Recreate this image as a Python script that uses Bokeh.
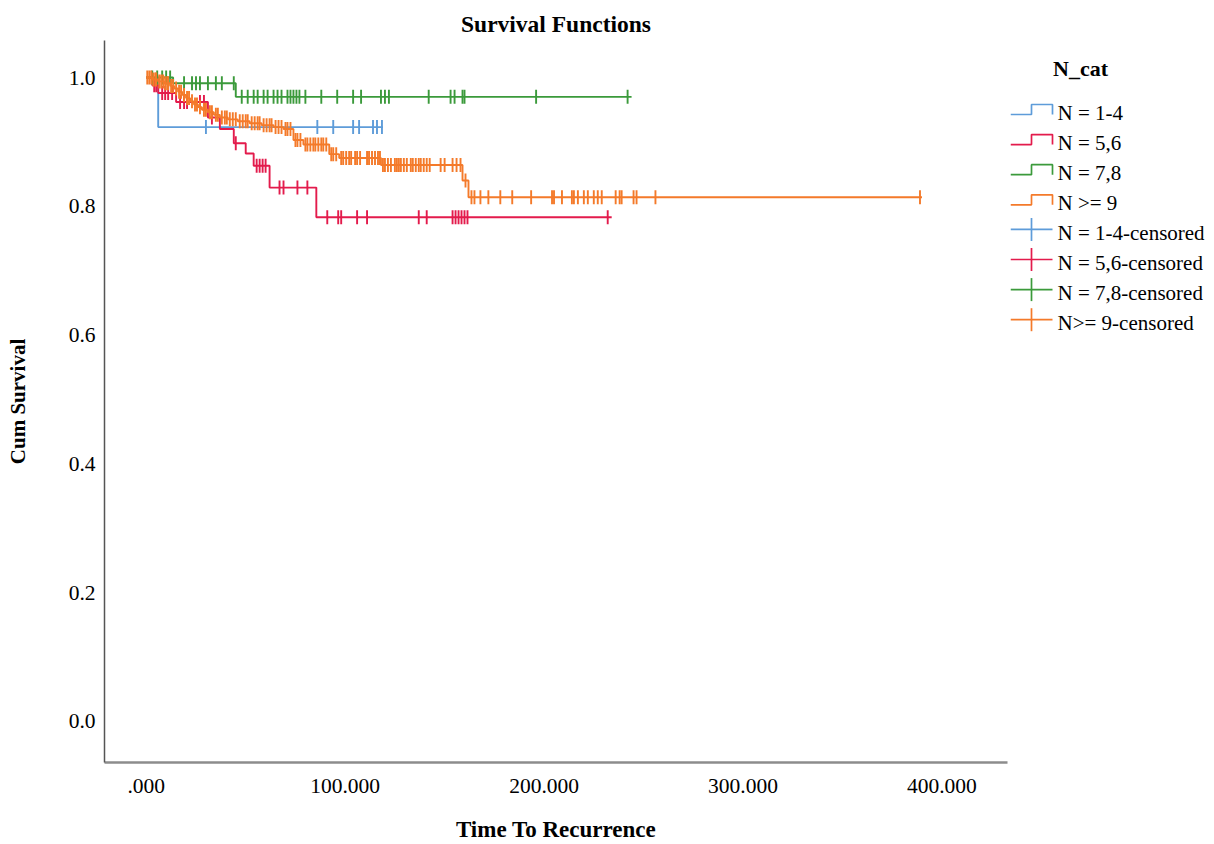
import numpy as np
from bokeh.plotting import figure
from bokeh.layouts import row
from bokeh.models import Range1d, FixedTicker
from bokeh.core.properties import value
from bokeh.embed import file_html
from bokeh.resources import INLINE

FONT = "Liberation Serif"

# ---- Kaplan-Meier estimates: step times, survival after each step, last follow-up, censored times
blue_time = [0.0, 6.0]
blue_surv = [1.0, 0.923]
blue_end = 119.0
blue_cens = [30, 86, 94, 104, 107, 114, 116, 118.5]

red_time = [0.0, 3.0, 6.0, 15.0, 31.0, 37.0, 44.0, 50.0, 54.0, 62.0, 85.5]
red_surv = [1.0, 0.988, 0.976, 0.962, 0.938, 0.92, 0.898, 0.882, 0.863, 0.829, 0.783]
red_end = 234.0
red_cens = [4, 5, 8, 9.5, 11, 13, 17, 19, 20.5, 27, 29, 33, 45, 55.5, 57, 58.5, 60,
            67, 69, 76, 81, 91, 96.5, 98, 106, 111, 137, 141, 154, 155.5, 157, 158.5,
            160, 161.5, 232]

green_time = [0.0, 13.5, 45.0]
green_surv = [1.0, 0.991, 0.97]
green_end = 244.0
green_cens = [3, 5.5, 8, 10, 12, 19, 23, 25, 27, 31, 35, 38, 44, 48, 51, 54, 56, 59, 61,
              64, 66, 68, 71, 72.5, 74, 75.5, 77, 80, 88, 96, 104, 108, 118, 120, 122,
              142, 153, 155, 159, 160, 196, 242]

orange_time = [0.0, 3, 6, 9, 12, 14, 16, 18, 20, 22, 24, 26, 28, 31, 34, 37, 41, 46, 52,
               58, 64, 69, 74, 79, 92, 97, 118, 159, 162]
orange_surv = [1.0, 0.997, 0.994, 0.991, 0.987, 0.983, 0.978, 0.973, 0.968, 0.963, 0.958,
               0.954, 0.95, 0.946, 0.942, 0.938, 0.935, 0.932, 0.929, 0.926, 0.923, 0.92,
               0.903, 0.896, 0.881, 0.875, 0.864, 0.84, 0.814]
orange_end = 390.0
orange_cens = [0.5, 1.5, 2.5, 3.5, 4.5, 5, 6.5, 7.5, 8.5, 9.5, 10.5, 11, 12.5, 13.5, 15,
               16.5, 17.5, 19, 20.5, 21.5, 23, 24.5, 25.5, 27, 29, 30, 32, 33, 35, 36, 38,
               39.5, 40.5, 42, 43.5, 45, 47, 48.5, 50, 51, 53, 54.5, 56, 57, 59, 60.5, 62,
               63, 65, 66.5, 68, 70, 71, 72.5, 75, 76, 77.5, 80, 81, 82.5, 84, 85, 86.5,
               88, 89, 90.5, 93, 94, 95.5, 98, 99, 100.5, 102, 103, 105, 106, 107.5, 111,
               112, 113.5, 115, 116.5, 117.5, 119, 120, 121.5, 123, 125, 126, 127, 128,
               129.5, 131, 133, 134, 135.5, 137, 138, 139.5, 141, 142.5, 148, 150, 154,
               156, 158, 160.5, 163.5, 165, 168, 172, 178, 184, 193.5, 204, 205, 209, 214,
               215, 217, 220, 222, 225, 227, 229, 236, 238, 239, 245, 246.5, 256, 389]

group_names = ["N = 1-4", "N = 5,6", "N = 7,8", "N >= 9"]
censored_names = ["N = 1-4-censored", "N = 5,6-censored", "N = 7,8-censored", "N>= 9-censored"]
colors = ["#5e9cd9", "#e31b4c", "#3b9a3b", "#f47a2a"]

x_ticks = [0, 100, 200, 300, 400]
x_tick_labels = [".000", "100.000", "200.000", "300.000", "400.000"]
y_ticks = [0.0, 0.2, 0.4, 0.6, 0.8, 1.0]
y_tick_labels = ["0.0", "0.2", "0.4", "0.6", "0.8", "1.0"]

groups = [
    (blue_time, blue_surv, blue_end, blue_cens),
    (red_time, red_surv, red_end, red_cens),
    (green_time, green_surv, green_end, green_cens),
    (orange_time, orange_surv, orange_end, orange_cens),
]

FRAME_TOP, FRAME_BOTTOM = 40, 762

p = figure(width=1010, height=844, x_range=Range1d(-21, 433), y_range=Range1d(-0.064, 1.0575),
           output_backend="svg", toolbar_location=None, title="Survival Functions",
           min_border_left=104, min_border_right=3, min_border_top=FRAME_TOP,
           min_border_bottom=844 - FRAME_BOTTOM)
p.grid.visible = False
p.outline_line_color = None
p.background_fill_color = "white"

p.title.align = "center"
p.title.text_font = FONT
p.title.text_font_size = "23.5px"
p.title.text_font_style = "bold"
p.title.text_color = "black"
p.title.standoff = 8

for ax in (p.xaxis[0], p.yaxis[0]):
    ax.major_tick_line_color = None
    ax.minor_tick_line_color = None
    ax.major_tick_out = 0
    ax.major_label_text_font = FONT
    ax.major_label_text_font_size = "21.5px"
    ax.major_label_text_color = "black"
    ax.axis_label_text_font = FONT
    ax.axis_label_text_font_style = "bold"
    ax.axis_label_text_color = "black"

p.xaxis.ticker = FixedTicker(ticks=x_ticks)
p.xaxis.major_label_overrides = dict(zip(x_ticks, x_tick_labels))
p.xaxis.axis_label = "Time To Recurrence"
p.xaxis.axis_label_text_font_size = "23px"
p.xaxis.axis_line_color = "#8c8c8c"
p.xaxis.axis_line_width = 2.5
p.xaxis.major_label_standoff = 16
p.xaxis.axis_label_standoff = 21

p.yaxis.ticker = FixedTicker(ticks=y_ticks)
p.yaxis.major_label_overrides = dict(zip(y_ticks, y_tick_labels))
p.yaxis.axis_label = "Cum Survival"
p.yaxis.axis_label_text_font_size = "21px"
p.yaxis.axis_line_color = "#555555"
p.yaxis.axis_line_width = 1.5
p.yaxis.major_label_standoff = 9
p.yaxis.axis_label_standoff = 36

for (t, s, end, cens), color in zip(groups, colors):
    xs = list(t) + [end]
    ys = list(s) + [s[-1]]
    p.step(x=xs, y=ys, mode="after", line_color=color, line_width=1.9)
    idx = np.searchsorted(np.asarray(t, dtype=float), np.asarray(cens, dtype=float), side="right") - 1
    cy = np.asarray(s)[idx]
    p.scatter(x=cens, y=cy, marker="dash", angle=np.pi / 2, size=14,
              line_color=color, line_width=1.9)

# ---- legend panel; its frame lines up with the chart frame, so ranges use page pixels
leg = figure(width=204, height=844, x_range=Range1d(1010, 1214),
             y_range=Range1d(FRAME_BOTTOM, FRAME_TOP),
             output_backend="svg", toolbar_location=None, min_border=0,
             x_axis_location=None, y_axis_location=None)
leg.grid.visible = False
leg.outline_line_color = None

leg.text(x=[1080], y=[68], text=["N_cat"], text_font=value(FONT), text_font_size="22px",
         text_font_style="bold", text_align="center", text_baseline="middle", text_color="black")

first_y, spacing = 112, 30.1
labels = group_names + censored_names
label_y = [first_y + i * spacing for i in range(len(labels))]
leg.text(x=[1057] * len(labels), y=label_y, text=labels, text_font=value(FONT),
         text_font_size="21px", text_align="left", text_baseline="middle", text_color="black")

for i, color in enumerate(colors):
    yc = label_y[i]
    leg.line(x=[1010, 1031, 1031, 1052, 1052], y=[yc + 2, yc + 2, yc - 8, yc - 8, yc + 2],
             line_color=color, line_width=1.7)
    yc2 = label_y[i + 4]
    leg.line(x=[1010, 1052], y=[yc2 - 3.5, yc2 - 3.5], line_color=color, line_width=1.7)
    leg.line(x=[1031, 1031], y=[yc2 - 15, yc2 + 8], line_color=color, line_width=1.7)

layout = row(p, leg)
open("out.html", "w").write(file_html(layout, INLINE))
